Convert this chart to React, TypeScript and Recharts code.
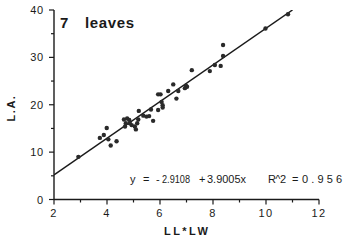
import { ScatterChart, Scatter, XAxis, YAxis, Customized } from 'recharts';

const productLW = [
  2.92, 3.73, 3.88, 3.99, 4.05, 4.14, 4.36, 4.64, 4.68, 4.71, 4.76, 4.84, 4.86, 4.93, 5.05,
  5.09, 5.14, 5.18, 5.2, 5.37, 5.49, 5.59, 5.66, 5.74, 5.93, 5.93, 6.02, 6.06, 6.1, 6.1,
  6.31, 6.5, 6.62, 6.69, 6.94, 6.98, 7.02, 7.2, 7.88, 8.07, 8.29, 8.38, 8.38, 9.98, 10.83,
];
const leafArea = [
  9.0, 13.0, 13.6, 15.1, 12.7, 11.4, 12.3, 16.9, 15.4, 16.1, 17.1, 16.8, 16.1, 15.7, 15.4,
  14.8, 16.1, 16.9, 18.7, 17.7, 17.5, 17.6, 19.0, 16.6, 22.2, 18.9, 22.2, 20.6, 19.9, 19.4,
  22.9, 24.3, 21.3, 22.9, 23.5, 24.0, 23.8, 27.3, 27.1, 28.4, 28.2, 32.6, 30.3, 36.1, 39.1,
];
const fitX = [2, 11];
const fitY = [5.2, 40];

const xTicks = [2, 3, 4, 5, 6, 7, 8, 9, 10, 11, 12];
const yTicks = [0, 5, 10, 15, 20, 25, 30, 35, 40];

const points = productLW.map((x, i) => ({ x, y: leafArea[i] }));
const fitLine = fitX.map((x, i) => ({ x, y: fitY[i] }));

const FONT = '"Liberation Sans", Arial, sans-serif';
const INK = '#1a1a1a';

function YTick({ x, y, payload }: any) {
  const major = payload.value % 10 === 0;
  return (
    <g>
      <line x1={x - (major ? 5 : 3)} y1={y} x2={x} y2={y} stroke={INK} strokeWidth={1.2} />
      {major && (
        <text x={x - 10} y={y + 4} textAnchor="end" fontSize={11} fontFamily={FONT} fill={INK} letterSpacing={0.8}>
          {payload.value}
        </text>
      )}
    </g>
  );
}

function XTick({ x, y, payload }: any) {
  const major = payload.value % 2 === 0;
  return (
    <g>
      <line x1={x} y1={y} x2={x} y2={y + (major ? 5 : 3)} stroke={INK} strokeWidth={1.2} />
      {major && (
        <text x={x} y={y + 17} textAnchor="middle" fontSize={11} fontFamily={FONT} fill={INK} letterSpacing={1.5}>
          {payload.value}
        </text>
      )}
    </g>
  );
}

function Dot({ cx, cy }: any) {
  return <circle cx={cx} cy={cy} r={2.2} fill="#2a2a2a" />;
}

function Annotations() {
  const t = { fontFamily: FONT, fill: INK, fontSize: 11 };
  // text, left x, width, how to fit
  const eq: Array<[string, number, number, string]> = [
    ['y', 130, 6, 'spacing'],
    ['=', 143, 7, 'spacing'],
    ['-', 156, 3, 'spacing'],
    ['2.9108', 162, 28, 'spacingAndGlyphs'],
    ['+', 199, 6, 'spacing'],
    ['3.9005x', 207, 39, 'spacingAndGlyphs'],
    ['R^2', 268, 18, 'spacing'],
    ['=', 292, 7, 'spacing'],
    ['0.956', 302, 40, 'spacing'],
  ];
  return (
    <g>
      <text x={60} y={28} fontFamily={FONT} fontWeight="bold" fontSize={15} fill={INK}>7</text>
      <text x={85} y={28} fontFamily={FONT} fontWeight="bold" fontSize={15} fill={INK} textLength={49} lengthAdjust="spacing">
        leaves
      </text>
      {eq.map(([s, x, w, adj], i) => (
        <text key={i} x={x} y={183} {...t} textLength={w} lengthAdjust={adj}>
          {s}
        </text>
      ))}
      <text x={164} y={235} {...t} fontWeight="bold" textLength={44} lengthAdjust="spacing">
        LL*LW
      </text>
      <text
        x={0}
        y={0}
        {...t}
        fontWeight="bold"
        textAnchor="middle"
        transform="translate(15,108) rotate(-90)"
        letterSpacing={1.5}
      >
        L.A.
      </text>
    </g>
  );
}

export default function App() {
  return (
    <div style={{ position: 'absolute', left: 0, top: 0, background: '#fff' }}>
      <ScatterChart width={344} height={244} margin={{ top: 10, right: 25, bottom: 0, left: 0 }}>
        <XAxis
          type="number"
          dataKey="x"
          domain={[2, 12]}
          ticks={xTicks}
          interval={0}
          height={44.5}
          tickSize={0}
          tickMargin={0}
          tickLine={false}
          axisLine={{ stroke: INK, strokeWidth: 1.4 }}
          tick={<XTick />}
          allowDataOverflow
        />
        <YAxis
          type="number"
          dataKey="y"
          domain={[0, 40]}
          ticks={yTicks}
          interval={0}
          width={54}
          tickSize={0}
          tickMargin={0}
          tickLine={false}
          axisLine={{ stroke: INK, strokeWidth: 1.4 }}
          tick={<YTick />}
          allowDataOverflow
        />
        <Scatter
          data={fitLine}
          line={{ stroke: INK, strokeWidth: 1.5 }}
          shape={() => <g />}
          isAnimationActive={false}
        />
        <Scatter data={points} shape={<Dot />} isAnimationActive={false} />
        <Customized component={<Annotations />} />
      </ScatterChart>
    </div>
  );
}
